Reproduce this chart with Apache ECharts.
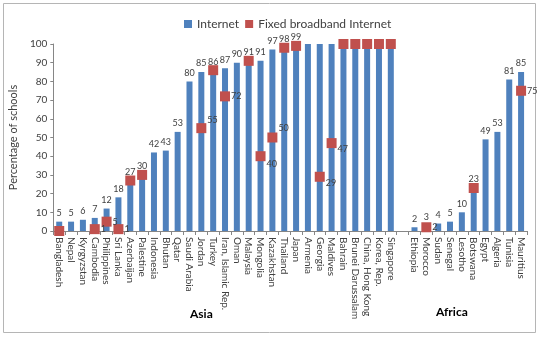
<!DOCTYPE html>
<html><head><meta charset="utf-8">
<script src="https://cdn.jsdelivr.net/npm/echarts@6/dist/echarts.min.js"></script>
<style>html,body{margin:0;padding:0;background:#fff}#c{width:540px;height:337px}</style>
</head><body><div id="c"></div>
<script>
var categories = ['Bangladesh','Nepal','Kyrgyzstan','Cambodia','Philippines','Sri Lanka','Azerbaijan','Palestine','Indonesia','Bhutan','Qatar','Saudi Arabia','Jordan','Turkey','Iran, Islamic Rep.','Oman','Malaysia','Mongolia','Kazakhstan','Thailand','Japan','Armenia','Georgia','Maldives','Bahrain','Brunei Darussalam','China, Hong Kong','Korea, Rep.','Singapore','',
'Ethiopia','Morocco','Sudan','Senegal','Lesotho','Botswana','Egypt','Algeria','Tunisia','Mauritius'];
var internet = [5,5,6,7,12,18,27,30,42,43,53,80,85,86,87,90,91,91,97,98,99,100,100,100,100,100,100,100,100,null,
2,3,4,5,10,23,49,53,81,85];
var broadband = [0,null,null,1,5,1,27,30,null,null,null,null,55,86,72,null,91,40,50,98,99,null,29,47,100,100,100,100,100,null,
null,2,null,null,null,23,null,null,null,75];
var yTicks = [0,10,20,30,40,50,60,70,80,90,100];

var labelOffsets = {'Jordan':[0,-8],'Mongolia':[0,8],'Kazakhstan':[0,-9],'Georgia':[0,6],'Maldives':[0,6]};

var barData = internet.map(function(v){
  return {value: v, label: {show: v !== null && v < 100}};
});
var bbData = broadband.map(function(v,i){
  var show = v !== null && v > 0 && v !== internet[i];
  var off = labelOffsets[categories[i]] || [0,0];
  return {value: v, label: {show: show, offset: off}};
});

var chart = echarts.init(document.getElementById('c'), null, {renderer:'canvas'});
chart.setOption({
  animation: false,
  textStyle: {fontFamily: 'Lato, "Liberation Sans", sans-serif'},
  graphic: [
    {type:'rect', shape:{x:3.5,y:3.5,width:532,height:329}, style:{fill:'none', stroke:'#b5b5b5', lineWidth:1}, z:-1},
    {type:'text', left:190, top:308, style:{text:'Asia', font:'bold 12px Lato, sans-serif', fill:'#000'}},
    {type:'text', left:436, top:306, style:{text:'Africa', font:'bold 12px Lato, sans-serif', fill:'#000'}}
  ],
  legend: {
    top: 13, left: 179, itemWidth: 8, itemHeight: 8, itemGap: 6,
    icon: 'rect',
    textStyle: {fontSize: 12, color: '#404040', fontFamily: 'Lato, sans-serif'},
    data: ['Internet','Fixed broadband Internet']
  },
  grid: {left: 47, right: 13, top: 44, bottom: 106, containLabel: false},
  xAxis: {
    type: 'category', data: categories,
    axisLine: {show: true, lineStyle: {color: '#868686'}},
    axisTick: {show: true, length: 4, lineStyle: {color: '#868686'}},
    axisLabel: {interval: 0, rotate: -90, fontSize: 10, color: '#404040', margin: 6}
  },
  yAxis: {
    type: 'value', min: 0, max: 100, interval: 10,
    name: 'Percentage of schools', nameLocation: 'middle', nameGap: 31,
    nameTextStyle: {fontSize: 11, color: '#404040'},
    axisLine: {show: true, lineStyle: {color: '#868686'}},
    axisTick: {show: true, length: 3, lineStyle: {color: '#868686'}},
    splitLine: {show: false},
    axisLabel: {fontSize: 10, color: '#404040', margin: 6,
      formatter: function(v){ return yTicks.indexOf(v) >= 0 ? String(v) : ''; }}
  },
  series: [
    {name: 'Internet', type: 'bar', data: barData, barWidth: 6,
      itemStyle: {color: '#4F81BD'},
      label: {position: 'top', distance: 4, fontSize: 9, color: '#404040'}},
    {name: 'Fixed broadband Internet', type: 'scatter', data: bbData,
      symbol: 'rect', symbolSize: 10,
      itemStyle: {color: '#C0504D', opacity: 1},
      label: {position: 'right', distance: 1, fontSize: 9, color: '#404040'}, z: 3}
  ]
});
</script></body></html>
